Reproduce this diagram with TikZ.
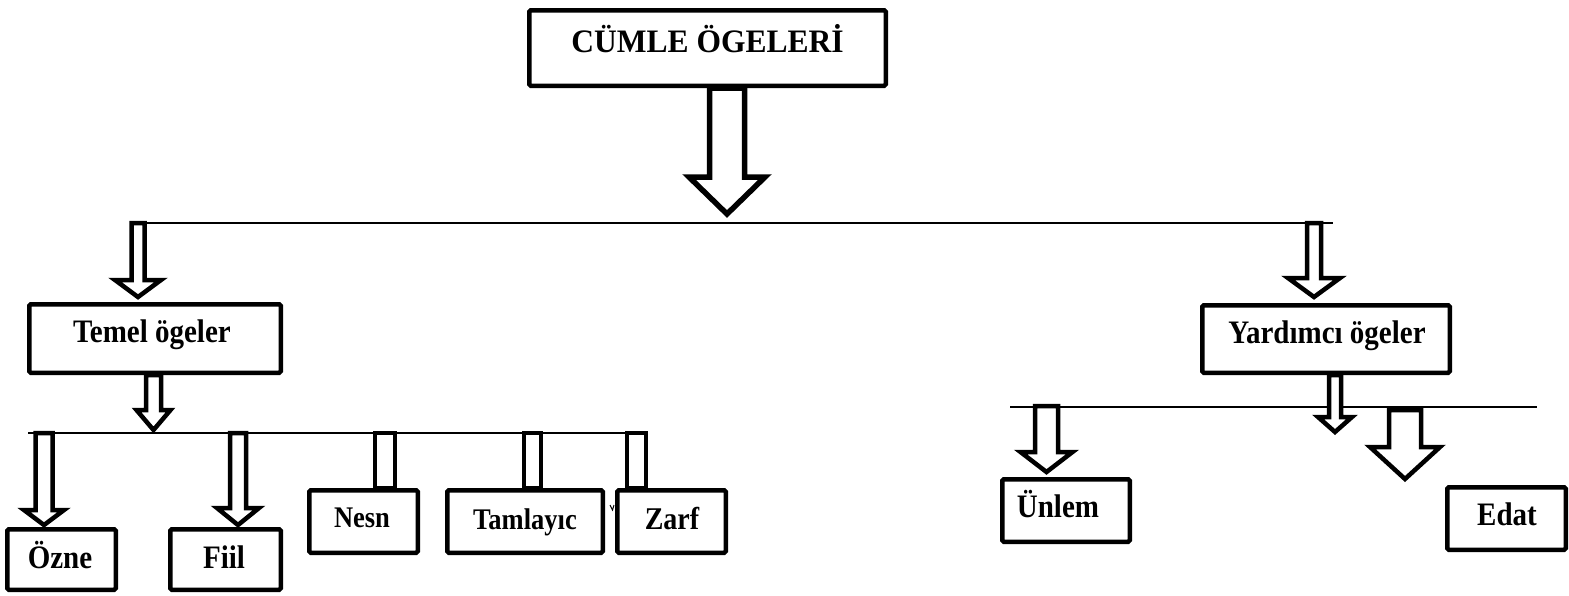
\documentclass[tikz,border=0pt]{standalone}
\usepackage{fontspec}
\setmainfont{Liberation Serif}
\newcommand{\tall}[1]{\scalebox{1}[1.13]{#1}}
\begin{document}
\begin{tikzpicture}[x=1pt,y=-1pt,
  box/.style={draw, line width=4.5pt, rounded corners=1.5pt, inner sep=0pt, fill=white},
  lbl/.style={anchor=base, inner sep=0pt, font=\bfseries\fontsize{29}{34}\selectfont},
  lblsm/.style={anchor=base, inner sep=0pt, font=\bfseries\fontsize{26.5}{32}\selectfont},
  blk/.style={draw, line width=4.5pt, fill=white, line join=miter},
  hline/.style={draw, line width=2pt}]
\useasboundingbox (0,0) rectangle (1569,595);
\newcommand{\blockarrow}[7][]{%
  \draw[blk,#1] (#2-#4,#3) -- (#2+#4,#3) -- (#2+#4,#5) -- (#2+#6,#5) -- (#2,#7) -- (#2-#6,#5) -- (#2-#4,#5) -- cycle;}
% horizontal lines
\coordinate (l1a) at (130,222.5); \coordinate (l1b) at (1333,222.5);
\coordinate (l2a) at (28,433); \coordinate (l2b) at (625,433);
\coordinate (l3a) at (1010,407); \coordinate (l3b) at (1537,407);
\draw[hline] (l1a) -- (l1b);
\draw[hline] (l2a) -- (l2b);
\draw[hline, line width=1.5pt] (l3a) -- (l3b);
% boxes
\node[box, minimum width=356.5pt, minimum height=75.5pt] (title) at (707.5,48) {};
\node[box, minimum width=251.5pt, minimum height=68.5pt] (temel) at (155,338.5) {};
\node[box, minimum width=247.5pt, minimum height=67.5pt] (yard) at (1326,339) {};
\node[box, minimum width=108.5pt, minimum height=60.5pt] (ozne) at (61.5,559.5) {};
\node[box, minimum width=110.5pt, minimum height=60.5pt] (fiil) at (225.5,559.5) {};
\node[box, minimum width=108.5pt, minimum height=62.5pt] (nesn) at (363.5,521.5) {};
\node[box, minimum width=155.5pt, minimum height=62.5pt] (taml) at (525,521.5) {};
\node[box, minimum width=108.5pt, minimum height=62.5pt] (zarf) at (671.5,521.5) {};
\node[box, minimum width=127.5pt, minimum height=62.5pt] (unlem) at (1066,510.5) {};
\node[box, minimum width=118.5pt, minimum height=62.5pt] (edat) at (1506.5,518.5) {};
% labels
\node[anchor=base, inner sep=0pt, font=\bfseries\fontsize{31.5}{36}\selectfont] (titletxt) at (707.5,52) {\scalebox{1}[1.04]{CÜMLE ÖGELERİ}};
\node[lbl] (temeltxt) at (152,342) {\tall{Temel ögeler}};
\node[lbl] (yardtxt) at (1327,343) {\tall{Yardımcı ögeler}};
\node[lbl] (oznetxt) at (60,568) {\tall{Özne}};
\node[lbl] (fiiltxt) at (224,568) {\tall{Fiil}};
\node[lblsm] (nesntxt) at (362,527) {\tall{Nesn}};
\node[lblsm] (tamltxt) at (525,529) {\tall{Tamlayıc}};
\node[lbl, font=\bfseries\fontsize{28}{33}\selectfont] (zarftxt) at (672,529) {\tall{Zarf}};
\node[lbl] (unlemtxt) at (1058,517) {\tall{Ünlem}};
\node[lbl] (edattxt) at (1507,525) {\tall{Edat}};
% block arrows
\blockarrow[line width=5.5pt]{727}{88}{17.5}{177}{38}{214}
\blockarrow{138}{223}{6.5}{280}{23}{297}
\blockarrow{1314}{223}{7}{278}{26}{297}
\blockarrow{153.5}{375}{7.5}{410}{17}{430}
\blockarrow{44}{433}{8.5}{510}{20}{525}
\blockarrow{238}{433}{8}{508}{21}{525}
\blockarrow{1046.5}{406}{11.5}{452}{26}{472}
\blockarrow{1335}{375}{6}{417}{17}{432}
\blockarrow{1405}{410}{16}{447}{35}{479}
% stubs
\draw[blk] (375,433) rectangle (395,488);
\draw[blk] (524,433) rectangle (541,488);
\draw[blk] (627,433) rectangle (646,488);
% small tick near Zarf
\coordinate (tk1) at (610,505); \coordinate (tk2) at (612.5,510); \coordinate (tk3) at (614,505);
\draw[line width=1pt] (tk1) -- (tk2) -- (tk3);
\end{tikzpicture}
\end{document}
